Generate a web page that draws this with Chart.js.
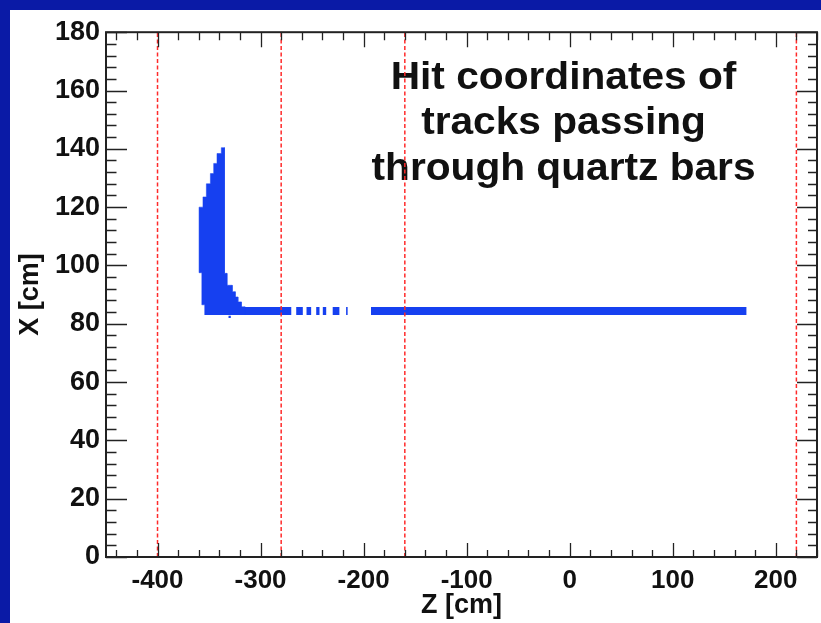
<!DOCTYPE html>
<html>
<head>
<meta charset="utf-8">
<title>Hit coordinates of tracks passing through quartz bars</title>
<script src="https://cdn.jsdelivr.net/npm/chart.js@4/dist/chart.umd.min.js"></script>
<style>
    html, body {
        margin: 0;
        padding: 0;
        background: #0a1aa6;
        width: 821px;
        height: 623px;
        overflow: hidden;
    }
    #wrap {
        position: absolute;
        left: 10px;
        top: 10px;
        width: 811px;
        height: 613px;
        background: #ffffff;
    }
</style>
</head>
<body>
<div id="wrap"><canvas id="hitChart" width="811" height="613"></canvas></div>
<script>
// Values
const xTickVals = [-400, -300, -200, -100, 0, 100, 200];
const yTickVals = [0, 20, 40, 60, 80, 100, 120, 140, 160, 180];

// dashed red lines (Z positions)
const zLines = [-400, -280, -160, 220];

// outline of the dense hit region near Z = -350
const blobZ = [-354.2, -354.2, -357.0, -357.0, -359.7, -359.7, -355.9, -355.9, -352.6, -352.6,
    -348.7, -348.7, -345.5, -345.5, -342.3, -342.3, -338.1, -338.1, -335.0, -335.0,
    -332.6, -332.6, -327.5, -327.5, -324.6, -324.6, -322.0, -322.0, -318.7, -318.7, -315.0, -315.0];
const blobX = [83.0, 86.5, 86.5, 97.5, 97.5, 120.0, 120.0, 123.5, 123.5, 128.0,
    128.0, 131.5, 131.5, 135.0, 135.0, 138.4, 138.4, 140.4, 140.4, 97.3,
    97.3, 93.2, 93.2, 91.0, 91.0, 89.2, 89.2, 87.5, 87.5, 85.8, 85.8, 83.0];

// the thin band of hits at X ~ 84 cm, as Z segments
const segStart = [-318.7, -265.4, -255.4, -246.0, -239.6, -230.0, -217.0, -192.8];
const segEnd = [-270.2, -259.0, -250.9, -242.8, -236.3, -223.5, -215.5, 171.5];
const bandX = 84.4;

// stray hit below the band
const strayZ = [-330];
const strayX = [82.4];

const titleLines = ['Hit coordinates of', 'tracks passing', 'through quartz bars'];

const BLUE = '#1640f0';
const RED = '#ff2a2a';
const INK = '#111111';
const FONT = '"Liberation Sans", Arial, Helvetica, sans-serif';

function buildBand() {
    const pts = [];
    segStart.forEach((s, i) => {
        pts.push({ x: s, y: bandX });
        pts.push({ x: segEnd[i], y: bandX });
        // break between segments
        pts.push({ x: segEnd[i] + 0.5, y: null });
    });
    return pts;
}

const datasets = [];

zLines.forEach(z => {
    datasets.push({
        data: [{ x: z, y: 0 }, { x: z, y: 180 }],
        showLine: true,
        borderColor: RED,
        borderWidth: 1.5,
        borderDash: [4, 2.5],
        pointRadius: 0,
        order: 0
    });
});

datasets.push({
    data: blobZ.map((z, i) => ({ x: z, y: blobX[i] })),
    showLine: true,
    borderColor: BLUE,
    borderWidth: 0.5,
    backgroundColor: BLUE,
    fill: 'shape',
    pointRadius: 0,
    order: 1
});

datasets.push({
    data: buildBand(),
    showLine: true,
    spanGaps: false,
    borderColor: BLUE,
    borderWidth: 8,
    borderCapStyle: 'butt',
    pointRadius: 0,
    order: 1
});

datasets.push({
    data: strayZ.map((z, i) => ({ x: z, y: strayX[i] })),
    showLine: false,
    pointStyle: 'rect',
    pointRadius: 1.6,
    backgroundColor: BLUE,
    borderColor: BLUE,
    borderWidth: 0,
    order: 1
});

// title text, minor/major inward ticks and the frame, ROOT style
const rootFrame = {
    id: 'rootFrame',
    beforeDatasetsDraw(chart) {
        const ctx = chart.ctx;
        const xs = chart.scales.x;
        const cx = xs.getPixelForValue(-6);
        const baselines = [79, 124, 170];
        ctx.save();
        ctx.fillStyle = INK;
        ctx.font = 'bold 38px ' + FONT;
        ctx.textAlign = 'center';
        ctx.textBaseline = 'alphabetic';
        titleLines.forEach((t, i) => {
            ctx.save();
            ctx.translate(cx, baselines[i]);
            ctx.scale(1.07, 1);
            ctx.fillText(t, 0, 0);
            ctx.restore();
        });
        ctx.restore();
    },
    afterDatasetsDraw(chart) {
        const ctx = chart.ctx;
        const a = chart.chartArea;
        const xs = chart.scales.x;
        const ys = chart.scales.y;
        ctx.save();
        ctx.strokeStyle = '#222222';
        ctx.lineWidth = 1.3;
        ctx.beginPath();
        for (let v = -440; v <= 240; v += 20) {
            const px = Math.round(xs.getPixelForValue(v)) + 0.5;
            const len = v % 100 === 0 ? 14 : 7;
            ctx.moveTo(px, a.bottom);
            ctx.lineTo(px, a.bottom - len);
            ctx.moveTo(px, a.top);
            ctx.lineTo(px, a.top + len + 1);
        }
        for (let v = 0; v <= 180; v += 4) {
            const py = Math.round(ys.getPixelForValue(v)) + 0.5;
            const major = v % 20 === 0;
            ctx.moveTo(a.left, py);
            ctx.lineTo(a.left + (major ? 21 : 10.5), py);
            ctx.moveTo(a.right, py);
            ctx.lineTo(a.right - (major ? 20 : 9), py);
        }
        ctx.stroke();
        ctx.lineWidth = 2;
        ctx.strokeRect(a.left, a.top, a.right - a.left, a.bottom - a.top);
        ctx.restore();
    }
};

new Chart(document.getElementById('hitChart'), {
    type: 'scatter',
    data: { datasets },
    options: {
        responsive: false,
        animation: false,
        layout: { padding: { left: 0, top: 22, right: 2, bottom: 0 } },
        plugins: {
            legend: { display: false },
            tooltip: { enabled: false }
        },
        scales: {
            x: {
                type: 'linear',
                min: -450,
                max: 240,
                grid: { display: false, drawTicks: false },
                border: { display: false },
                afterBuildTicks: scale => {
                    scale.ticks = xTickVals.map(v => ({ value: v }));
                },
                afterFit: scale => { scale.height = 66; },
                ticks: {
                    color: INK,
                    padding: 8,
                    maxRotation: 0,
                    font: { family: FONT, size: 26, weight: 'bold' }
                },
                title: {
                    display: true,
                    text: 'Z [cm]',
                    color: INK,
                    padding: { top: 0, bottom: 1 },
                    font: { family: FONT, size: 27, weight: 'bold' }
                }
            },
            y: {
                type: 'linear',
                min: 0,
                max: 180,
                grid: { display: false, drawTicks: false },
                border: { display: false },
                afterBuildTicks: scale => {
                    scale.ticks = yTickVals.map(v => ({ value: v }));
                },
                afterFit: scale => { scale.width = 96; },
                ticks: {
                    color: INK,
                    padding: 6,
                    font: { family: FONT, size: 27, weight: 'bold' }
                },
                title: {
                    display: true,
                    text: 'X [cm]',
                    color: INK,
                    padding: { top: 4, bottom: 0 },
                    font: { family: FONT, size: 27, weight: 'bold' }
                }
            }
        }
    },
    plugins: [rootFrame]
});
</script>
</body>
</html>
